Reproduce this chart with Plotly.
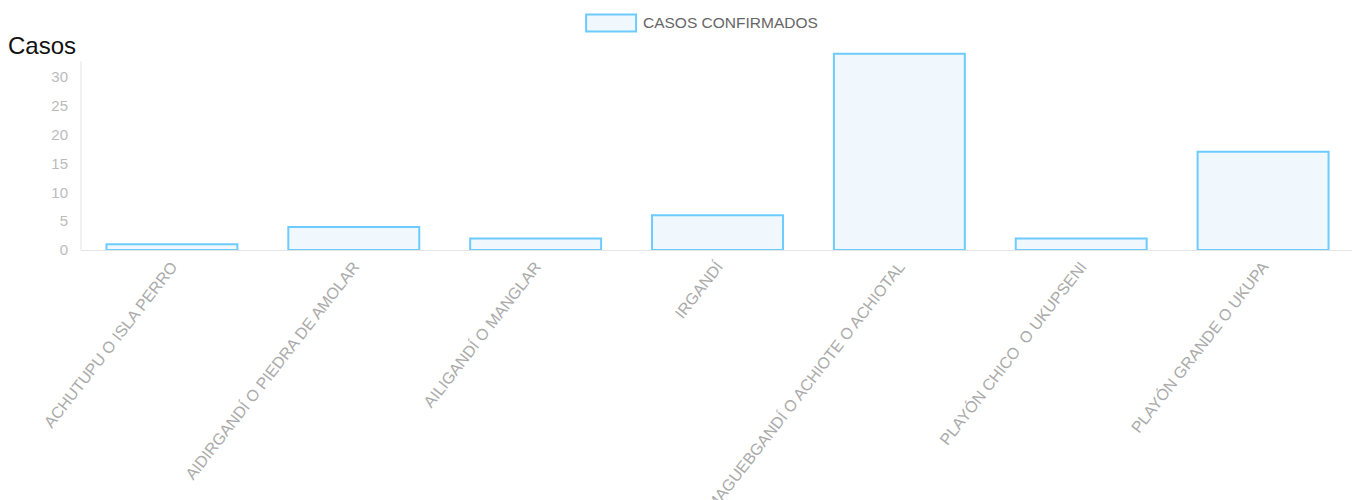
import plotly.graph_objects as go

categories = [
    "ACHUTUPU O ISLA PERRO",
    "AIDIRGANDÍ O PIEDRA DE AMOLAR",
    "AILIGANDÍ O MANGLAR",
    "IRGANDÍ",
    "MAGUEBGANDÍ O ACHIOTE O ACHIOTAL",
    "PLAYÓN CHICO  O UKUPSENI",
    "PLAYÓN GRANDE O UKUPA",
]
casos_confirmados = [1, 4, 2, 6, 34, 2, 17]
series_name = "CASOS CONFIRMADOS"
y_title = "Casos"
y_ticks = [0, 5, 10, 15, 20, 25, 30]
y_axis_top = 32.7
y_range_max = 35.5

# page body has an 8px margin; figure sized to fit the window
OFF = 8
W, H = 1360 - OFF, 500 - OFF
L, R, B = 80.5 - OFF, 5.5, 249.5
px_per_unit = 5.8
T = H - B - px_per_unit * y_range_max
pw, ph = W - L - R, H - T - B


def px_x(x):  # window pixel -> paper
    return (x - OFF - L) / pw


def px_y(y):
    return (H - B - (y - OFF)) / ph


fig = go.Figure()
fig.add_trace(go.Bar(
    x=categories,
    y=casos_confirmados,
    name=series_name,
    marker=dict(color="#f0f7fd", line=dict(color="#6ccbff", width=2)),
    width=0.72,
    showlegend=False,
))

fig.update_layout(
    template="none",
    width=W, height=H,
    margin=dict(l=L, r=R, t=T, b=B, pad=0),
    paper_bgcolor="white", plot_bgcolor="white",
    font=dict(family="Liberation Sans, Arial, sans-serif"),
    xaxis=dict(
        automargin=False,
        showgrid=False, showline=True, linecolor="#e4e4e4", linewidth=1,
        ticks="", tickangle=-52,
        tickfont=dict(size=16, color="#aaaaaa"),
        zeroline=False,
    ),
    yaxis=dict(
        automargin=False,
        range=[0, y_range_max], showgrid=False, showline=False,
        ticks="", tickvals=y_ticks,
        tickfont=dict(size=15, color="#bbbbbb"), zeroline=False,
        ticklabelstandoff=12,
    ),
    shapes=[
        dict(type="line", xref="paper", yref="y", x0=0, x1=0,
             y0=0, y1=y_axis_top, line=dict(color="#e4e4e4", width=1),
             layer="below"),
        dict(type="rect", xref="paper", yref="paper",
             x0=px_x(586), x1=px_x(636), y0=px_y(31), y1=px_y(14),
             fillcolor="#f0f7fd", line=dict(color="#6ccbff", width=2)),
    ],
    annotations=[
        dict(text=series_name, xref="paper", yref="paper",
             x=px_x(641), y=px_y(22), xanchor="left", yanchor="middle",
             showarrow=False, font=dict(size=15.5, color="#666666")),
        dict(text=y_title, xref="paper", yref="paper",
             x=px_x(5), y=px_y(45), xanchor="left", yanchor="middle",
             showarrow=False, font=dict(size=24, color="#111111",
                                         family="Liberation Sans, Arial")),
    ],
)

fig.write_html("out.html")
